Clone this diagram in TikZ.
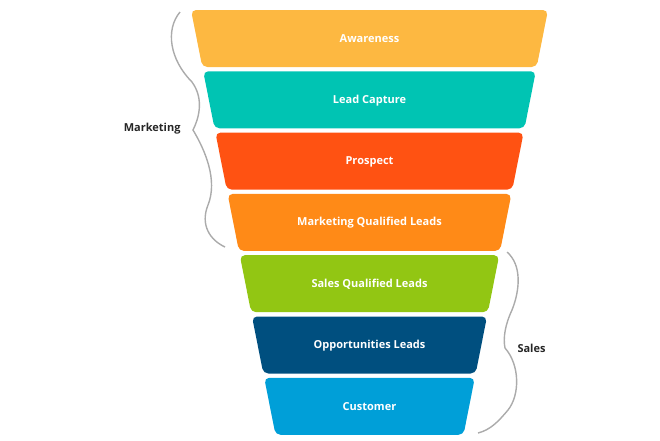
\documentclass[tikz,border=0pt]{standalone}
\usepackage{fontspec}
\setmainfont{Open Sans}
\definecolor{cawareness}{HTML}{FDB841}
\definecolor{ccapture}{HTML}{00C4B3}
\definecolor{cprospect}{HTML}{FF5212}
\definecolor{cmql}{HTML}{FF8A17}
\definecolor{csql}{HTML}{92C613}
\definecolor{copp}{HTML}{004F7F}
\definecolor{ccustomer}{HTML}{009FD8}
\definecolor{cbrace}{HTML}{ABABAB}
\tikzset{
  layertext/.style={text=white,font=\bfseries\fontsize{11}{13}\selectfont},
  sidetext/.style={text=black!85,font=\bfseries\fontsize{11}{13}\selectfont},
  bracel/.style={cbrace,line width=1.4pt}
}
\begin{document}
\begin{tikzpicture}[x=1pt,y=-1pt]
\useasboundingbox (0,0) rectangle (660,440);

\foreach \col/\txt [count=\i from 0] in {cawareness/Awareness,ccapture/Lead Capture,cprospect/Prospect,cmql/Marketing Qualified Leads,csql/Sales Qualified Leads,copp/Opportunities Leads,ccustomer/Customer}{
  \pgfmathsetmacro{\yt}{10+61.3*\i}
  \pgfmathsetmacro{\yb}{\yt+57}
  \pgfmathsetmacro{\xl}{191+12.2*\i}
  \pgfmathsetmacro{\xr}{548-12.2*\i}
  \fill[\col,rounded corners=5pt] (\xl,\yt) -- (\xr,\yt) -- (\xr-11.3,\yb) -- (\xl+11.3,\yb) -- cycle;
  \node[layertext] (layer\i) at (369.5,\yt+29) {\txt};
}

% marketing brace
\draw[bracel] (180,12) .. controls (165,30) and (170,60) .. (192,82)
  .. controls (205,100) and (198,120) .. (193,130)
  .. controls (205,150) and (218,180) .. (208,205)
  .. controls (200,225) and (210,240) .. (225,247);
\node[sidetext,anchor=east] (marketing) at (184,129) {Marketing};

% sales brace
\draw[bracel] (507,252) .. controls (522,265) and (520,290) .. (512,310)
  .. controls (505,325) and (503,338) .. (505,348)
  .. controls (520,365) and (520,395) .. (508,410)
  .. controls (498,422) and (490,430) .. (478,433);
\node[sidetext,anchor=west] (sales) at (514,348) {Sales};
\end{tikzpicture}
\end{document}
